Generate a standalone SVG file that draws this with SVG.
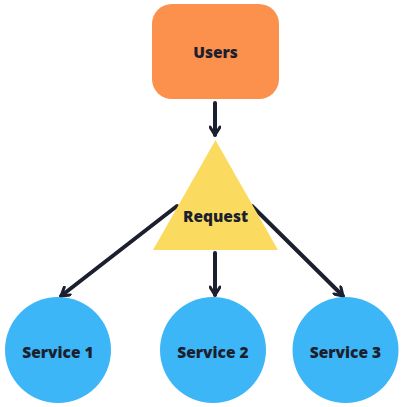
<svg xmlns="http://www.w3.org/2000/svg" width="403" height="407" viewBox="0 0 403 407">
<defs>
<style>
.lbl{font-family:"Open Sans","Noto Sans","Liberation Sans",sans-serif;font-weight:800;font-size:15.5px;fill:#1b1f2e;text-anchor:middle;dominant-baseline:central}
.edge{stroke:#1b1f2e;stroke-width:4;fill:none;stroke-linecap:round}
.svc{fill:#3db6f7}
</style>
<marker id="arr" viewBox="0 0 12 12" refX="10" refY="6" markerWidth="12" markerHeight="12" markerUnits="userSpaceOnUse" orient="auto">
<path d="M2,1 L10,6 L2,11" fill="none" stroke="#1b1f2e" stroke-width="3" stroke-linecap="round" stroke-linejoin="round"/>
</marker>
</defs>
<rect width="403" height="407" fill="#ffffff"/>
<g id="connectors">
<line class="edge" x1="215" y1="103" x2="215" y2="135" marker-end="url(#arr)"/>
<line class="edge" x1="177" y1="206" x2="61" y2="296" marker-end="url(#arr)"/>
<line class="edge" x1="215" y1="253" x2="215" y2="295" marker-end="url(#arr)"/>
<line class="edge" x1="252" y1="206" x2="343" y2="296" marker-end="url(#arr)"/>
</g>
<g id="users">
<rect x="152" y="4" width="127" height="95" rx="20" fill="#fb914d"/>
<text class="lbl" x="215.5" y="52">Users</text>
</g>
<g id="request">
<polygon points="215.5,140 278,250 153,250" fill="#fadb5f"/>
<text class="lbl" x="215.5" y="216">Request</text>
</g>
<g id="service1">
<circle class="svc" cx="58" cy="350" r="53"/>
<text class="lbl" x="58" y="352">Service 1</text>
</g>
<g id="service2">
<circle class="svc" cx="213" cy="350" r="53"/>
<text class="lbl" x="213" y="352">Service 2</text>
</g>
<g id="service3">
<circle class="svc" cx="345.5" cy="350" r="53"/>
<text class="lbl" x="345.5" y="352">Service 3</text>
</g>
</svg>
